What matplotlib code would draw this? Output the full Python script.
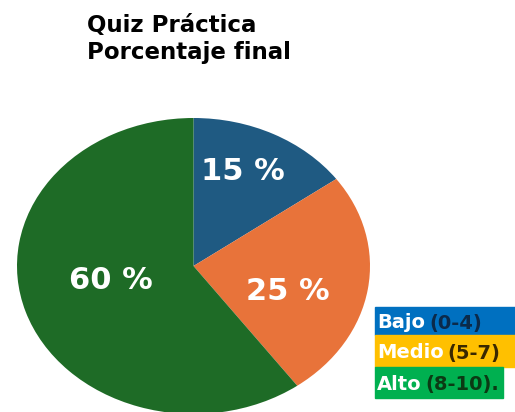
import matplotlib
matplotlib.use("Agg")
import matplotlib.pyplot as plt
from matplotlib.patches import Rectangle

# data
categories = ["Bajo", "Medio", "Alto"]
ranges = ["(0-4)", "(5-7)", "(8-10)."]
values = [15, 25, 60]
pie_labels = ["15 %", "25 %", "60 %"]

pie_colors = ["#1f5a82", "#e8733a", "#1e6b26"]
legend_colors = ["#0070c0", "#ffc000", "#00b050"]
range_colors = ["#0b2a4a", "#3a2800", "#0b3a14"]

plt.rcParams["font.family"] = ["DejaVu Sans"]

fig = plt.figure(figsize=(5.15, 4.12), dpi=100)
W, H = 515, 412

# elliptic pie: axes box matches the stretched ellipse
ax = fig.add_axes([17 / W, -2 / H, 353 / W, 296 / H])
wedges, _ = ax.pie(values, colors=pie_colors, startangle=90, counterclock=False,
                   radius=1.0, wedgeprops=dict(linewidth=0))
ax.set_aspect("auto")
ax.set_xlim(-1, 1)
ax.set_ylim(-1, 1)

label_pos = [(0.28, 0.64), (0.535, -0.17), (-0.47, -0.10)]
for (x, y), txt in zip(label_pos, pie_labels):
    ax.text(x, y, txt, ha="center", va="center", color="white",
            fontsize=22, fontweight="bold")

# title
fig.text(87 / W, 1 - 14 / H, "Quiz Práctica\nPorcentaje final", ha="left", va="top",
         fontsize=16.5, fontweight="bold", color="black", linespacing=1.22)

# legend box on the right
row_tops = [307, 335, 367]
row_bottoms = [335, 367, 398]
row_right = [515, 515, 503]
fig.canvas.draw()
r = fig.canvas.get_renderer()
for i in range(3):
    y0 = 1 - row_bottoms[i] / H
    h = (row_bottoms[i] - row_tops[i]) / H
    fig.patches.append(Rectangle((375 / W, y0), (row_right[i] - 375) / W, h,
                                 transform=fig.transFigure, color=legend_colors[i], zorder=0))
    yc = 1 - (row_tops[i] + row_bottoms[i]) / 2 / H
    t = fig.text(377 / W, yc, categories[i], ha="left", va="center_baseline",
                 fontsize=14, fontweight="bold", color="white")
    bb = t.get_window_extent(renderer=r)
    fig.text(bb.x1 / W + 4 / W, yc, ranges[i], ha="left", va="center_baseline",
             fontsize=14, fontweight="bold", color=range_colors[i])

fig.savefig("out.png", dpi=100)
